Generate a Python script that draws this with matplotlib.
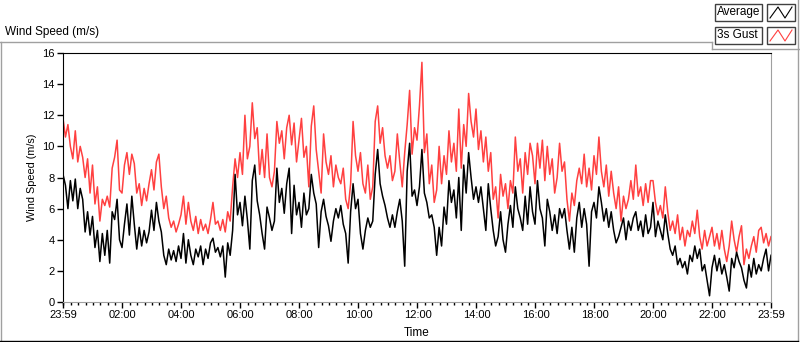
import numpy as np
import matplotlib
matplotlib.use('Agg')
import matplotlib.pyplot as plt
from matplotlib.lines import Line2D
from matplotlib.patches import Rectangle

plt.rcParams['font.family'] = ['Liberation Sans', 'DejaVu Sans']

# 5-minute readings from 23:59 to 23:59 next day (m/s)
avg = [8.2, 7.5, 6.0, 7.8, 6.5, 7.9, 6.0, 7.3, 6.6, 4.5, 5.8, 4.3, 5.5, 3.5, 4.6, 2.6,
       4.4, 3.0, 4.6, 2.5, 5.8, 5.3, 6.6, 4.0, 3.5, 5.0, 6.3, 4.3, 6.8, 5.0, 3.4, 4.8,
       3.6, 4.6, 3.8, 4.5, 5.9, 4.6, 6.4, 5.2, 4.5, 3.0, 2.4, 3.4, 2.7, 3.3, 2.6, 3.6,
       2.8, 4.4, 2.5, 4.0, 3.0, 2.4, 3.4, 2.9, 3.6, 2.4, 3.4, 2.8, 3.8, 4.1, 3.2, 3.5,
       2.9, 3.6, 1.6, 3.8, 3.0, 4.6, 8.2, 5.6, 6.4, 4.9, 6.8, 5.3, 3.4, 7.8, 8.8, 6.5,
       5.6, 4.4, 3.4, 6.1, 5.4, 4.6, 5.2, 8.6, 6.4, 7.3, 5.7, 7.6, 8.6, 4.4, 7.5, 5.6,
       6.4, 4.8, 7.0, 5.6, 6.0, 8.2, 7.0, 6.3, 3.5, 5.8, 6.6, 5.5, 4.9, 3.9, 5.2, 6.0,
       5.4, 6.2, 5.0, 4.4, 2.5, 5.8, 7.6, 6.0, 6.6, 4.4, 3.4, 4.6, 5.4, 4.8, 5.2, 8.2,
       9.8, 7.6, 6.8, 6.2, 5.4, 4.8, 5.6, 4.8, 5.8, 6.6, 5.2, 2.3, 8.4, 10.2, 6.8, 7.2,
       6.2, 7.4, 9.8, 7.0, 6.4, 5.4, 5.6, 4.8, 3.0, 4.8, 3.6, 6.1, 5.0, 7.8, 6.4, 7.2,
       5.4, 8.0, 4.6, 8.8, 7.0, 9.6, 8.0, 6.6, 7.4, 6.4, 7.4, 6.0, 4.6, 7.6, 6.0, 4.6,
       3.6, 4.2, 5.8, 4.0, 3.2, 5.0, 6.2, 4.8, 7.4, 6.0, 5.4, 4.6, 6.8, 5.0, 7.4, 5.8,
       5.0, 7.8, 6.0, 5.4, 3.6, 6.6, 5.8, 4.6, 5.6, 4.4, 6.0, 5.4, 6.0, 4.6, 3.4, 4.8,
       3.2, 5.4, 6.4, 4.8, 6.0, 5.0, 2.3, 5.8, 6.4, 5.4, 7.4, 6.4, 5.2, 6.0, 4.8, 5.8,
       4.6, 3.8, 4.2, 4.8, 5.4, 4.0, 5.2, 4.6, 5.4, 5.8, 4.6, 5.2, 4.2, 5.6, 4.4, 4.8,
       6.4, 4.2, 5.2, 4.6, 4.0, 5.6, 4.4, 3.4, 3.0, 3.6, 2.4, 2.8, 2.2, 2.6, 1.8, 3.0,
       2.6, 3.6, 2.8, 3.4, 2.0, 2.4, 1.4, 0.4, 2.2, 3.0, 2.0, 2.8, 1.8, 2.4, 1.6, 0.7,
       2.8, 2.2, 3.2, 2.6, 2.2, 1.4, 0.9, 2.4, 1.6, 2.8, 1.8, 2.4, 2.0, 2.8, 3.4, 2.0,
       3.0]
gust = [11.8, 10.6, 11.4, 10.0, 9.2, 11.0, 9.0, 10.0, 9.3, 8.0, 9.2, 7.0, 8.8, 6.3, 7.4, 5.2,
        6.6, 6.2, 6.8, 6.1, 8.6, 9.3, 10.4, 7.2, 7.0, 8.8, 9.6, 8.2, 9.5, 8.9, 7.0, 7.6,
        6.2, 7.3, 6.5, 7.6, 8.5, 7.2, 9.0, 9.5, 7.4, 6.0, 6.8, 5.4, 4.8, 5.2, 4.5, 5.0,
        5.6, 6.8, 5.0, 6.4, 5.2, 4.6, 5.5, 4.4, 5.3, 4.6, 5.0, 4.4, 5.3, 6.4, 5.0, 5.2,
        4.6, 5.3, 4.5, 5.8, 5.2, 7.4, 9.2, 8.0, 9.6, 8.2, 12.0, 9.2, 10.0, 12.8, 10.5, 11.2,
        8.2, 9.8, 8.0, 10.8, 8.0, 7.4, 8.4, 11.6, 10.2, 11.0, 9.2, 11.2, 12.0, 10.1, 11.5, 9.0,
        10.4, 11.8, 9.3, 10.0, 7.4, 11.3, 12.6, 9.8, 8.4, 7.0, 10.8, 9.0, 8.2, 9.4, 7.4, 8.8,
        8.0, 7.6, 8.6, 6.6, 6.0, 7.6, 11.6, 9.4, 8.4, 9.6, 7.6, 7.0, 8.8, 6.6, 7.4, 11.6,
        12.6, 10.2, 11.2, 9.4, 8.6, 9.4, 7.8, 8.4, 10.8, 9.0, 7.4, 9.6, 11.4, 13.6, 9.5, 11.2,
        10.4, 12.6, 15.4, 9.6, 10.8, 7.6, 8.8, 6.4, 7.2, 10.0, 7.6, 9.4, 8.2, 11.0, 9.0, 10.2,
        8.4, 12.4, 8.6, 11.4, 10.0, 13.4, 11.6, 10.6, 12.4, 9.8, 11.0, 9.0, 10.6, 8.4, 9.6, 6.6,
        7.4, 5.4, 8.2, 6.8, 7.6, 6.0, 7.8, 7.0, 10.6, 8.4, 9.2, 7.0, 9.6, 8.2, 10.2, 9.4,
        7.6, 10.2, 8.6, 10.4, 7.8, 10.0, 8.2, 9.2, 7.0, 8.0, 10.2, 8.4, 9.0, 6.6, 5.2, 7.0,
        6.2, 7.8, 8.6, 7.6, 9.5, 7.4, 8.6, 7.2, 9.4, 8.2, 10.6, 8.4, 7.4, 8.8, 6.8, 8.4,
        7.0, 6.0, 7.4, 5.2, 6.8, 6.0, 6.6, 7.8, 6.6, 8.8, 6.8, 7.4, 6.2, 7.6, 6.4, 7.8,
        7.8, 6.4, 5.6, 6.2, 5.4, 7.4, 5.8, 4.6, 5.2, 4.4, 5.6, 4.0, 4.8, 3.6, 4.6, 4.2,
        5.2, 4.4, 5.9, 4.2, 3.4, 4.6, 3.6, 4.2, 4.8, 3.6, 4.4, 3.4, 4.6, 3.4, 2.6, 3.6,
        5.2, 4.0, 3.2, 4.2, 4.9, 2.4, 3.4, 2.8, 3.6, 4.2, 3.2, 4.6, 4.8, 3.8, 4.4, 3.6,
        4.2]
tick_labels = ['23:59', '02:00', '04:00', '06:00', '08:00', '10:00', '12:00',
               '14:00', '16:00', '18:00', '20:00', '22:00', '23:59']
tick_minutes = [0, 121, 241, 361, 481, 601, 721, 841, 961, 1081, 1201, 1321, 1440]

W, H = 800, 342
fig = plt.figure(figsize=(W / 100, H / 100), dpi=100)


def fx(px):
    return px / W


def fy(py):
    return 1 - py / H


ax = fig.add_axes([fx(63), fy(302), fx(771) - fx(63), fy(53) - fy(302)])

t = np.arange(len(avg)) * 5
ax.plot(t, gust, color='#ff4040', lw=1.1)
ax.plot(t, avg, color='black', lw=1.1)

ax.set_xlim(0, 1440)
ax.set_ylim(0, 16)
ax.set_yticks(range(0, 17, 2))
ax.set_xticks(tick_minutes)
ax.set_xticklabels(tick_labels)
ax.set_xticks(np.arange(1, 1440, 15), minor=True)
ax.tick_params(axis='both', which='major', length=4, width=1, labelsize=8, pad=2)
ax.tick_params(axis='x', which='minor', length=2.5, width=1)
for side in ['top', 'left']:
    ax.spines[side].set_color('black')
for side in ['bottom', 'right']:
    ax.spines[side].set_color('#a0a0a0')
ax.set_ylabel('Wind Speed (m/s)', fontsize=7.8, labelpad=4)
ax.set_xlabel('Time', fontsize=8.5, labelpad=5)

# panel frame
frame = dict(transform=fig.transFigure, lw=1)
fig.add_artist(Line2D([fx(0), fx(712)], [fy(42), fy(42)], color='#a0a0a0', **frame))
fig.add_artist(Line2D([fx(712), fx(712)], [fy(42), fy(49)], color='#a0a0a0', **frame))
fig.add_artist(Line2D([fx(712), fx(800)], [fy(49), fy(49)], color='#a0a0a0', **frame))
fig.add_artist(Line2D([fx(798), fx(798)], [fy(0), fy(341)], color='#a0a0a0', **frame))
fig.add_artist(Line2D([fx(0.5), fx(0.5)], [fy(42), fy(341)], color='#a0a0a0', **frame))
fig.add_artist(Line2D([fx(0), fx(798)], [fy(340.5), fy(340.5)], color='black', **frame))

fig.text(fx(5), fy(32), 'Wind Speed (m/s)', fontsize=8.5, va='center', ha='left')

# legend
for row, (name, col) in enumerate([('Average', 'black'), ('3s Gust', '#ff4040')]):
    y0, y1 = 4 + row * 23, 21 + row * 23
    fig.add_artist(Rectangle((fx(715), fy(y1)), fx(762) - fx(715), fy(y0) - fy(y1),
                             transform=fig.transFigure, fill=False, ec='#404040', lw=1))
    fig.add_artist(Rectangle((fx(767), fy(y1)), fx(795) - fx(767), fy(y0) - fy(y1),
                             transform=fig.transFigure, fill=False, ec='#404040', lw=1))
    fig.text(fx(717), fy((y0 + y1) / 2), name, fontsize=8.5, va='center', ha='left')
    zx = [fx(770), fx(778), fx(785), fx(792)]
    zy = [fy(y1 - 3), fy(y0 + 3), fy(y1 - 3), fy(y0 + 3)]
    fig.add_artist(Line2D(zx, zy, color=col, lw=0.8, transform=fig.transFigure))

fig.savefig('out.png', dpi=100)
